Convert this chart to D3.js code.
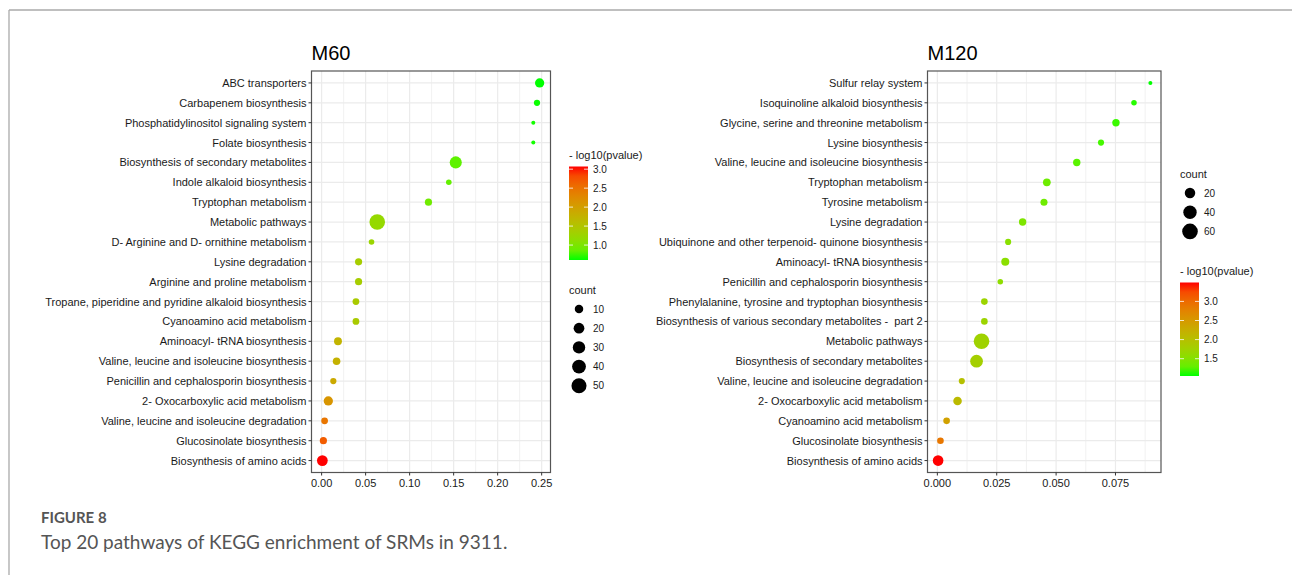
<!DOCTYPE html>
<html>
<head>
<meta charset="utf-8">
<script src="https://cdn.jsdelivr.net/npm/d3@7/dist/d3.min.js"></script>
<style>
  body { margin: 0; background: #fff; }
  svg text { font-family: "Liberation Sans", Arial, Helvetica, sans-serif; }
  svg text.caption { font-family: Lato, "Open Sans", sans-serif; }
</style>
</head>
<body>
<div id="chart"></div>
<script>
/* * * * * * * * * * * * * *
 *   data   *
 * * * * * * * * * * * * * */

const m60Pathways = [
  "ABC transporters", "Carbapenem biosynthesis", "Phosphatidylinositol signaling system",
  "Folate biosynthesis", "Biosynthesis of secondary metabolites", "Indole alkaloid biosynthesis",
  "Tryptophan metabolism", "Metabolic pathways", "D- Arginine and D- ornithine metabolism",
  "Lysine degradation", "Arginine and proline metabolism",
  "Tropane, piperidine and pyridine alkaloid biosynthesis", "Cyanoamino acid metabolism",
  "Aminoacyl- tRNA biosynthesis", "Valine, leucine and isoleucine biosynthesis",
  "Penicillin and cephalosporin biosynthesis", "2- Oxocarboxylic acid metabolism",
  "Valine, leucine and isoleucine degradation", "Glucosinolate biosynthesis",
  "Biosynthesis of amino acids"
];
const m60Pvalue = [0.2477, 0.2447, 0.2405, 0.2405, 0.1524, 0.1445, 0.1214, 0.0632, 0.0567, 0.042,
  0.042, 0.039, 0.039, 0.0186, 0.017, 0.0133, 0.0076, 0.0034, 0.002, 0.00085];
const m60Count = [13, 4, 2, 2, 28, 3, 6, 55, 3, 6, 6, 5, 5, 8, 7, 4, 13, 5, 6, 20];

const m120Pathways = [
  "Sulfur relay system", "Isoquinoline alkaloid biosynthesis",
  "Glycine, serine and threonine metabolism", "Lysine biosynthesis",
  "Valine, leucine and isoleucine biosynthesis", "Tryptophan metabolism", "Tyrosine metabolism",
  "Lysine degradation", "Ubiquinone and other terpenoid- quinone biosynthesis",
  "Aminoacyl- tRNA biosynthesis", "Penicillin and cephalosporin biosynthesis",
  "Phenylalanine, tyrosine and tryptophan biosynthesis",
  "Biosynthesis of various secondary metabolites -  part 2", "Metabolic pathways",
  "Biosynthesis of secondary metabolites", "Valine, leucine and isoleucine degradation",
  "2- Oxocarboxylic acid metabolism", "Cyanoamino acid metabolism",
  "Glucosinolate biosynthesis", "Biosynthesis of amino acids"
];
const m120Pvalue = [0.0897, 0.0828, 0.0752, 0.0689, 0.0587, 0.0461, 0.0449, 0.0359, 0.0298, 0.0286,
  0.0265, 0.0198, 0.0198, 0.0186, 0.0165, 0.0103, 0.0085, 0.0039, 0.0013, 0.00032];
const m120Count = [2, 3, 7, 4, 7, 8, 6, 7, 4, 9, 3, 5, 5, 60, 35, 4, 11, 5, 5, 21];

const m60XTicks = [0, 0.05, 0.10, 0.15, 0.20, 0.25];
const m120XTicks = [0, 0.025, 0.050, 0.075];
const m60ColorTicks = [1.0, 1.5, 2.0, 2.5, 3.0];
const m120ColorTicks = [1.5, 2.0, 2.5, 3.0];
const m60CountBreaks = [10, 20, 30, 40, 50];
const m120CountBreaks = [20, 40, 60];

/* * * * * * * * * * * * * *
 *      class DotPlot       *
 * * * * * * * * * * * * * */

class DotPlot {
  constructor(svg, config) {
    this.svg = svg;
    this.config = config;
    this.initVis();
  }

  initVis() {
    let vis = this;
    let c = vis.config;

    vis.data = c.pathways.map((d, i) => ({
      pathway: d,
      pvalue: c.pvalue[i],
      count: c.count[i],
      logp: -Math.log10(c.pvalue[i])
    }));

    vis.g = vis.svg.append("g");

    // x scale with ggplot style 5% expansion
    let ext = d3.extent(vis.data, (d) => d.pvalue);
    let pad = (ext[1] - ext[0]) * 0.05;
    vis.x = d3.scaleLinear().domain([ext[0] - pad, ext[1] + pad]).range([c.left, c.right]);

    vis.y = d3.scalePoint().domain(c.pathways).range([c.top, c.bottom]).padding(0.6);

    vis.color = d3.scaleLinear()
      .domain(d3.extent(vis.data, (d) => d.logp))
      .range(["#00ff00", "#ff0000"])
      .interpolate(d3.interpolateLab)
      .clamp(true);

    let norm = d3.scaleLinear().domain(d3.extent(vis.data, (d) => d.count)).range([0, 1]).clamp(true);
    vis.r = (n) => 2 + (7.8 - 2) * Math.sqrt(norm(n));

    // title
    vis.g.append("text")
      .attr("x", c.left)
      .attr("y", 60)
      .style("font-size", "20px")
      .attr("fill", "#000")
      .text(c.title);

    // grid
    let step = c.xTicks[1] - c.xTicks[0];
    let dom = vis.x.domain();
    let minor = [];
    c.xTicks.forEach((t) => {
      if (t + step / 2 < dom[1]) minor.push(t + step / 2);
    });
    if (c.xTicks[0] - step / 2 > dom[0]) minor.push(c.xTicks[0] - step / 2);

    vis.g.selectAll(".minor").data(minor).enter().append("line")
      .attr("x1", (d) => vis.x(d)).attr("x2", (d) => vis.x(d))
      .attr("y1", c.top).attr("y2", c.bottom)
      .attr("stroke", "#ebebeb").attr("stroke-width", 0.7);

    vis.g.selectAll(".major").data(c.xTicks).enter().append("line")
      .attr("x1", (d) => vis.x(d)).attr("x2", (d) => vis.x(d))
      .attr("y1", c.top).attr("y2", c.bottom)
      .attr("stroke", "#ebebeb").attr("stroke-width", 1.2);

    vis.g.selectAll(".hgrid").data(c.pathways).enter().append("line")
      .attr("x1", c.left).attr("x2", c.right)
      .attr("y1", (d) => vis.y(d)).attr("y2", (d) => vis.y(d))
      .attr("stroke", "#ebebeb").attr("stroke-width", 1.2);

    // points
    vis.g.selectAll(".dot").data(vis.data).enter().append("circle")
      .attr("cx", (d) => vis.x(d.pvalue))
      .attr("cy", (d) => vis.y(d.pathway))
      .attr("r", (d) => vis.r(d.count))
      .attr("fill", (d) => vis.color(d.logp));

    // panel border
    vis.g.append("rect")
      .attr("x", c.left).attr("y", c.top)
      .attr("width", c.right - c.left).attr("height", c.bottom - c.top)
      .attr("fill", "none").attr("stroke", "#555").attr("stroke-width", 1.2);

    // y axis
    vis.g.selectAll(".ytick").data(c.pathways).enter().append("line")
      .attr("x1", c.left - 3).attr("x2", c.left)
      .attr("y1", (d) => vis.y(d)).attr("y2", (d) => vis.y(d))
      .attr("stroke", "#333");

    vis.g.selectAll(".ylab").data(c.pathways).enter().append("text")
      .attr("x", c.left - 5)
      .attr("y", (d) => vis.y(d))
      .attr("text-anchor", "end")
      .attr("dominant-baseline", "central")
      .style("font-size", "11px")
      .style("white-space", "pre")
      .attr("fill", "#1a1a1a")
      .text((d) => d);

    // x axis
    vis.g.selectAll(".xtick").data(c.xTicks).enter().append("line")
      .attr("x1", (d) => vis.x(d)).attr("x2", (d) => vis.x(d))
      .attr("y1", c.bottom).attr("y2", c.bottom + 3)
      .attr("stroke", "#333");

    vis.g.selectAll(".xlab").data(c.xTicks).enter().append("text")
      .attr("x", (d) => vis.x(d))
      .attr("y", c.bottom + 14)
      .attr("text-anchor", "middle")
      .style("font-size", "11px")
      .attr("fill", "#1a1a1a")
      .text((d) => d3.format(c.xFormat)(d));

    vis.drawColorLegend();
    vis.drawSizeLegend();
  }

  drawColorLegend() {
    let vis = this;
    let c = vis.config;
    let L = c.colorLegend;

    vis.g.append("text")
      .attr("x", L.x).attr("y", L.y)
      .style("font-size", "11px").attr("fill", "#1a1a1a")
      .text("- log10(pvalue)");

    let barTop = L.y + 7.5, barBottom = barTop + 93.5, barW = 19;
    let dom = vis.color.domain();
    let cy = d3.scaleLinear().domain(dom).range([barBottom, barTop]);

    let gradId = "grad-" + c.title;
    let grad = vis.svg.append("defs").append("linearGradient")
      .attr("id", gradId)
      .attr("x1", 0).attr("y1", 1).attr("x2", 0).attr("y2", 0);
    grad.selectAll("stop").data(d3.range(0, 1.0001, 0.1)).enter().append("stop")
      .attr("offset", (d) => d)
      .attr("stop-color", (d) => vis.color(dom[0] + d * (dom[1] - dom[0])));

    vis.g.append("rect")
      .attr("x", L.x).attr("y", barTop)
      .attr("width", barW).attr("height", barBottom - barTop)
      .attr("fill", "url(#" + gradId + ")");

    L.ticks.forEach((t) => {
      [[L.x, L.x + 4], [L.x + barW - 4, L.x + barW]].forEach((s) => {
        vis.g.append("line")
          .attr("x1", s[0]).attr("x2", s[1])
          .attr("y1", cy(t)).attr("y2", cy(t))
          .attr("stroke", "#fff").attr("stroke-width", 0.8);
      });
    });

    vis.g.selectAll(".clab-" + c.title).data(L.ticks).enter().append("text")
      .attr("x", L.x + barW + 5)
      .attr("y", (d) => cy(d))
      .attr("dominant-baseline", "central")
      .style("font-size", "10px").attr("fill", "#1a1a1a")
      .text((d) => d3.format(".1f")(d));
  }

  drawSizeLegend() {
    let vis = this;
    let c = vis.config;
    let L = c.sizeLegend;

    vis.g.append("text")
      .attr("x", L.x).attr("y", L.y)
      .style("font-size", "11px").attr("fill", "#1a1a1a")
      .text("count");

    L.breaks.forEach((b, i) => {
      let yy = L.y + 15 + i * 19.2;
      vis.g.append("circle")
        .attr("cx", L.x + 10).attr("cy", yy)
        .attr("r", vis.r(b)).attr("fill", "#000");
      vis.g.append("text")
        .attr("x", L.x + 24).attr("y", yy)
        .attr("dominant-baseline", "central")
        .style("font-size", "10px").attr("fill", "#1a1a1a")
        .text(b);
    });
  }
}

/* * * * * * * * * * * * * *
 *          page            *
 * * * * * * * * * * * * * */

let svg = d3.select("#chart").append("svg")
  .attr("width", 1292)
  .attr("height", 575);

// figure frame
svg.append("line").attr("x1", 9).attr("x2", 1292).attr("y1", 10).attr("y2", 10)
  .attr("stroke", "#aaa").attr("stroke-width", 1.3);
svg.append("line").attr("x1", 9).attr("x2", 9).attr("y1", 10).attr("y2", 575)
  .attr("stroke", "#aaa").attr("stroke-width", 1.3);

let m60Plot = new DotPlot(svg, {
  title: "M60",
  pathways: m60Pathways, pvalue: m60Pvalue, count: m60Count,
  left: 311.5, right: 550.5, top: 71, bottom: 472.5,
  xTicks: m60XTicks, xFormat: ".2f",
  colorLegend: { x: 569, y: 159, ticks: m60ColorTicks },
  sizeLegend: { x: 569, y: 294, breaks: m60CountBreaks }
});

let m120Plot = new DotPlot(svg, {
  title: "M120",
  pathways: m120Pathways, pvalue: m120Pvalue, count: m120Count,
  left: 927.5, right: 1161, top: 71, bottom: 472.5,
  xTicks: m120XTicks, xFormat: ".3f",
  colorLegend: { x: 1180, y: 275, ticks: m120ColorTicks },
  sizeLegend: { x: 1180, y: 178, breaks: m120CountBreaks }
});

// caption
svg.append("text")
  .attr("class", "caption")
  .attr("x", 41).attr("y", 523)
  .style("font-size", "15px").style("font-weight", "bold")
  .attr("fill", "#555")
  .text("FIGURE 8");

svg.append("text")
  .attr("class", "caption")
  .attr("x", 41).attr("y", 549)
  .style("font-size", "19px")
  .attr("fill", "#555")
  .text("Top 20 pathways of KEGG enrichment of SRMs in 9311.");
</script>
</body>
</html>
